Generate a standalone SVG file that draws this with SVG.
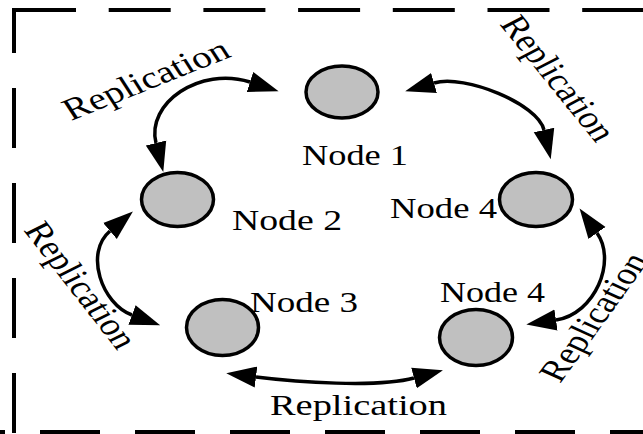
<svg xmlns="http://www.w3.org/2000/svg" width="643" height="434" viewBox="0 0 643 434">
  <style>
    .frame { fill: none; stroke: #000; stroke-width: 4; stroke-dasharray: 60 35; }
    .node { fill: #c0c0c0; stroke: #000; stroke-width: 3.5; }
    .link { fill: none; stroke: #000; stroke-width: 3.5; marker-start: url(#head); marker-end: url(#head); }
    .lbl { font-family: "Liberation Serif", "Times New Roman", serif; font-size: 30px; fill: #000; }
    .tilt { font-size: 31px; }
  </style>
  <defs>
    <marker id="head" markerUnits="userSpaceOnUse" markerWidth="32" markerHeight="24" viewBox="0 0 32 24" refX="0" refY="12" orient="auto-start-reverse">
      <path d="M0,1.5 L30,12 L0,22.5 Z" fill="#000"/>
    </marker>
  </defs>

  <rect width="643" height="434" fill="#fff"/>

  <!-- dashed boundary -->
  <g id="boundary">
    <line class="frame" x1="14" y1="10" x2="660" y2="10" style="stroke-dasharray: 62 32.7"/>
    <line class="frame" x1="14" y1="433" x2="14" y2="8"/>
    <line class="frame" x1="-55" y1="432" x2="660" y2="432"/>
  </g>

  <!-- replication links -->
  <g id="connectors">
    <path class="link" d="M250,82 C200,66 146,103 156,143"/>
    <path class="link" d="M434,83 C465,74 538,104 544,130"/>
    <path class="link" d="M110,231 C84,253 102,304 132,315"/>
    <path class="link" d="M597,233 C617,261 595,314 556,320"/>
    <path class="link" d="M256,377 C296,382 377,388 414,378"/>
    <text class="lbl tilt" transform="translate(71,121) scale(1.27,1) rotate(-27)">Replication</text>
    <text class="lbl tilt" transform="translate(499,24) scale(1.25,1) rotate(57)">Replication</text>
    <text class="lbl tilt" transform="translate(23,230) scale(1.25,1) rotate(58)">Replication</text>
    <text class="lbl tilt" transform="translate(560,384) scale(1.25,1) rotate(-60)">Replication</text>
    <text class="lbl" x="270" y="415" textLength="177" lengthAdjust="spacingAndGlyphs">Replication</text>
  </g>

  <g id="node1">
    <ellipse class="node" cx="342" cy="92" rx="36" ry="26"/>
    <text class="lbl" x="302" y="165" textLength="106" lengthAdjust="spacingAndGlyphs">Node 1</text>
  </g>
  <g id="node2">
    <ellipse class="node" cx="177.5" cy="199.5" rx="36" ry="27"/>
    <text class="lbl" x="232" y="230" textLength="110" lengthAdjust="spacingAndGlyphs">Node 2</text>
  </g>
  <g id="node3">
    <ellipse class="node" cx="222.5" cy="327.5" rx="36" ry="28"/>
    <text class="lbl" x="250" y="312" textLength="108" lengthAdjust="spacingAndGlyphs">Node 3</text>
  </g>
  <g id="node4-upper">
    <ellipse class="node" cx="536" cy="199.5" rx="36.5" ry="27"/>
    <text class="lbl" x="390" y="218" textLength="107" lengthAdjust="spacingAndGlyphs">Node 4</text>
  </g>
  <g id="node4-lower">
    <ellipse class="node" cx="476" cy="337.5" rx="36.5" ry="28"/>
    <text class="lbl" x="440" y="302" textLength="105" lengthAdjust="spacingAndGlyphs">Node 4</text>
  </g>
</svg>
